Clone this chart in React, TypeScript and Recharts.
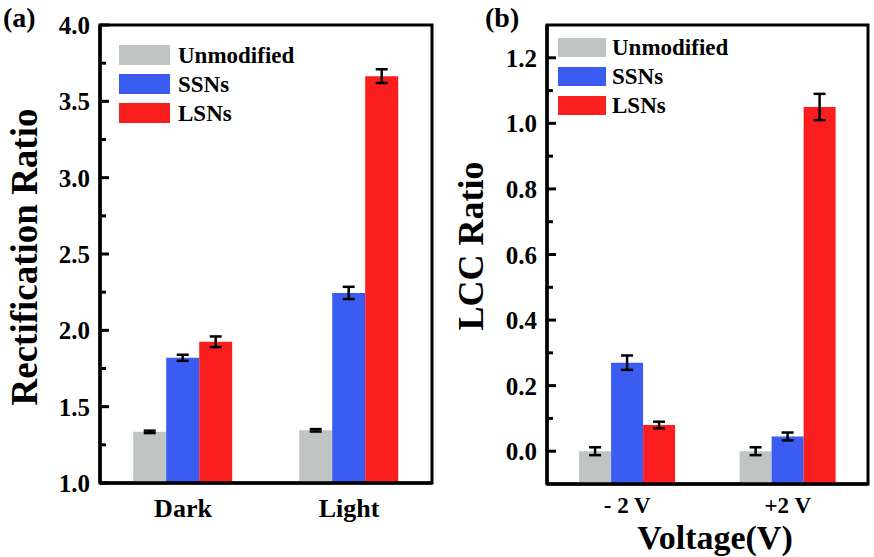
import React from 'react';
import { BarChart, Bar, XAxis, YAxis, ErrorBar, Legend, ReferenceArea, Label } from 'recharts';

const FONT = '"Liberation Serif", "Times New Roman", serif';

// Panel (a)
const categoriesA = ['Dark', 'Light'];
const unmodA = [1.335, 1.345];
const unmodErrA = [0.008, 0.008];
const ssnA = [1.82, 2.245];
const ssnErrA = [0.02, 0.04];
const lsnA = [1.925, 3.665];
const lsnErrA = [0.035, 0.045];
const majorTicksA = [1.0, 1.5, 2.0, 2.5, 3.0, 3.5, 4.0];
const minorTicksA = [1.25, 1.75, 2.25, 2.75, 3.25, 3.75];
const domainA: [number, number] = [1.0, 4.0];

// Panel (b)
const categoriesB = ['- 2 V', '+2 V'];
const unmodB = [0.0, 0.0];
const unmodErrB = [0.012, 0.012];
const ssnB = [0.27, 0.045];
const ssnErrB = [0.022, 0.012];
const lsnB = [0.08, 1.05];
const lsnErrB = [0.01, 0.04];
const majorTicksB = [0.0, 0.2, 0.4, 0.6, 0.8, 1.0, 1.2];
const minorTicksB = [0.1, 0.3, 0.5, 0.7, 0.9, 1.1];
const domainB: [number, number] = [-0.1, 1.3];

const seriesNames = ['Unmodified', 'SSNs', 'LSNs'];
const seriesColors = ['#c0c5c4', '#3b5cf0', '#fa1e1e'];

const dataA = categoriesA.map((cat, i) => ({
  cat,
  unmod: unmodA[i], unmodErr: unmodErrA[i],
  ssn: ssnA[i], ssnErr: ssnErrA[i],
  lsn: lsnA[i], lsnErr: lsnErrA[i],
}));

const dataB = categoriesB.map((cat, i) => ({
  cat,
  unmod: unmodB[i], unmodErr: unmodErrB[i],
  ssn: ssnB[i], ssnErr: ssnErrB[i],
  lsn: lsnB[i], lsnErr: lsnErrB[i],
}));

const allTicksA = [...majorTicksA, ...minorTicksA].sort((a, b) => a - b);
const allTicksB = [...majorTicksB, ...minorTicksB].sort((a, b) => a - b);

const YTick = (props: any) => {
  const { x, y, payload, majors } = props;
  const v = payload.value;
  const isMajor = majors.some((m: number) => Math.abs(m - v) < 1e-9);
  return (
    <g>
      <line x1={x} x2={x + (isMajor ? 9 : 6)} y1={y} y2={y} stroke="#000" strokeWidth={3} />
      {isMajor && (
        <text
          x={x - 10}
          y={y}
          dy="0.36em"
          textAnchor="end"
          fontSize={25}
          fontWeight="bold"
          fontFamily={FONT}
          fill="#000"
        >
          {v.toFixed(1)}
        </text>
      )}
    </g>
  );
};

const vText = (px: number, py: number, text: string, size: number) => () => (
  <text
    x={px}
    y={py}
    transform={`rotate(-90 ${px} ${py})`}
    textAnchor="middle"
    fontSize={size}
    fontWeight="bold"
    fontFamily={FONT}
    fill="#000"
  >
    {text}
  </text>
);

const hText = (px: number, py: number, text: string, size: number, anchor: string = 'start') => () => (
  <text x={px} y={py} textAnchor={anchor} fontSize={size} fontWeight="bold" fontFamily={FONT} fill="#000">
    {text}
  </text>
);

const makeLegend = (boxW: number, boxH: number, gap: number, rowGap: number) => (props: any) => {
  const payload = [...(props.payload || [])].sort(
    (a: any, b: any) => seriesNames.indexOf(a.value) - seriesNames.indexOf(b.value)
  );
  return (
    <div>
      {payload.map((p: any, i: number) => (
        <div key={i} style={{ display: 'flex', alignItems: 'center', height: boxH, marginBottom: rowGap }}>
          <div style={{ width: boxW, height: boxH, background: p.color, marginRight: gap }} />
          <span style={{ fontFamily: FONT, fontWeight: 'bold', fontSize: 23, color: '#000', lineHeight: 1 }}>{p.value}</span>
        </div>
      ))}
    </div>
  );
};

const rangeOf = (key: string) => (d: any) => [domainB[0], d[key]];

export default function App() {
  const keys = ['unmod', 'ssn', 'lsn'];
  return (
    <div style={{ position: 'absolute', left: 0, top: 0, width: 874, height: 557, background: '#fff', overflow: 'hidden' }}>
      <div style={{ position: 'absolute', left: 0, top: 0 }}>
        <BarChart
          width={440}
          height={557}
          data={dataA}
          margin={{ top: 25, right: 8, bottom: 34, left: 0 }}
          barCategoryGap="20%"
          barGap={0}
        >
          <ReferenceArea y1={domainA[0]} y2={domainA[1]} fill="none" stroke="#000" strokeWidth={3} fillOpacity={0} ifOverflow="visible" />
          <XAxis
            dataKey="cat"
            tickLine={false}
            tickSize={0}
            tickMargin={16}
            height={40}
            axisLine={{ stroke: '#000', strokeWidth: 3.5 }}
            tick={{ fontSize: 26, fontWeight: 'bold', fill: '#000', fontFamily: FONT }}
          >
            <Label content={hText(3, 27, '(a)', 28)} />
          </XAxis>
          <YAxis
            domain={domainA}
            allowDataOverflow
            ticks={allTicksA}
            interval={0}
            width={100}
            tickSize={0}
            tickMargin={0}
            tickLine={false}
            axisLine={{ stroke: '#000', strokeWidth: 3.5 }}
            tick={<YTick majors={majorTicksA} />}
          >
            <Label content={vText(37, 257, 'Rectification Ratio', 37)} />
          </YAxis>
          <Legend
            layout="vertical"
            align="center"
            verticalAlign="middle"
            wrapperStyle={{ left: 119, top: 45, width: 200 }}
            content={makeLegend(51, 20, 8, 9)}
          />
          {keys.map((k, i) => (
            <Bar key={k} dataKey={k} name={seriesNames[i]} fill={seriesColors[i]} isAnimationActive={false}>
              <ErrorBar dataKey={k + 'Err'} width={6} stroke="#000" strokeWidth={2.5} direction="y" />
            </Bar>
          ))}
        </BarChart>
      </div>
      <div style={{ position: 'absolute', left: 440, top: 0 }}>
        <BarChart
          width={434}
          height={557}
          data={dataB}
          margin={{ top: 25, right: 6, bottom: 33, left: 0 }}
          barCategoryGap="20%"
          barGap={0}
        >
          <ReferenceArea y1={domainB[0]} y2={domainB[1]} fill="none" stroke="#000" strokeWidth={3} fillOpacity={0} ifOverflow="visible" />
          <XAxis
            dataKey="cat"
            tickLine={false}
            tickSize={0}
            tickMargin={13}
            height={40}
            axisLine={{ stroke: '#000', strokeWidth: 3.5 }}
            tick={{ fontSize: 23, fontWeight: 'bold', fill: '#000', fontFamily: FONT }}
          >
            <Label content={hText(45, 27, '(b)', 28)} />
            <Label content={hText(275, 549, 'Voltage(V)', 34, 'middle')} />
          </XAxis>
          <YAxis
            domain={domainB}
            allowDataOverflow
            ticks={allTicksB}
            interval={0}
            width={107}
            tickSize={0}
            tickMargin={0}
            tickLine={false}
            axisLine={{ stroke: '#000', strokeWidth: 3.5 }}
            tick={<YTick majors={majorTicksB} />}
          >
            <Label content={vText(43, 246, 'LCC Ratio', 36)} />
          </YAxis>
          <Legend
            layout="vertical"
            align="center"
            verticalAlign="middle"
            wrapperStyle={{ left: 118, top: 38, width: 200 }}
            content={makeLegend(48, 19, 6, 10)}
          />
          {keys.map((k, i) => (
            <Bar key={k} dataKey={rangeOf(k)} name={seriesNames[i]} fill={seriesColors[i]} isAnimationActive={false}>
              <ErrorBar dataKey={k + 'Err'} width={6} stroke="#000" strokeWidth={2.5} direction="y" />
            </Bar>
          ))}
        </BarChart>
      </div>
    </div>
  );
}
